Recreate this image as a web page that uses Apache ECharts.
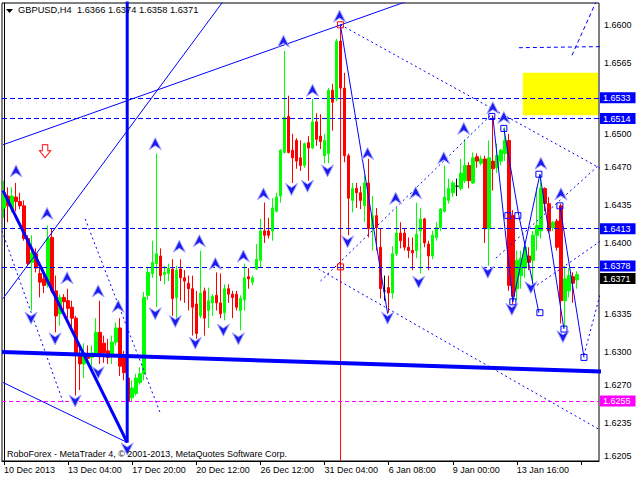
<!DOCTYPE html>
<html><head><meta charset="utf-8">
<script src="https://cdn.jsdelivr.net/npm/echarts@6/dist/echarts.min.js"></script>
<style>html,body{margin:0;padding:0;background:#fff}#c{width:640px;height:480px}</style>
</head><body><div id="c"></div>
<script>
const tickLabels = ['10 Dec 2013','13 Dec 04:00','17 Dec 20:00','20 Dec 12:00','26 Dec 12:00','31 Dec 04:00','6 Jan 08:00','9 Jan 00:00','13 Jan 16:00'];
const priceLabels = [1.6600,1.6565,1.6500,1.6470,1.6435,1.6400,1.6335,1.6300,1.6270,1.6235,1.6205];
const header = 'GBPUSD,H4  1.6366 1.6374 1.6358 1.6371';
const copyright = 'RoboForex - MetaTrader 4, \u00a9 2001-2013, MetaQuotes Software Corp.';

const open = [1.6432,1.6443,1.6431,1.6442,1.6438,1.6434,1.6404,1.6382,1.6390,1.6372,
1.6367,1.6362,1.6405,1.6356,1.6335,1.6350,1.6347,1.6341,1.6331,1.6298,
1.6289,1.6298,1.6295,1.6299,1.6318,1.6308,1.6301,1.6297,1.6309,1.6322,
1.6295,1.6276,1.6258,1.6262,1.6272,1.6280,1.6352,1.6372,1.6381,1.6388,
1.6371,1.6372,1.6376,1.6350,1.6376,1.6368,1.6363,1.6358,1.6344,1.6333,
1.6356,1.6338,1.6345,1.6352,1.6345,1.6336,1.6358,1.6353,1.6353,1.6338,
1.6348,1.6369,1.6364,1.6376,1.6384,1.6411,1.6411,1.6411,1.6429,1.6443,
1.6483,1.6516,1.6485,1.6494,1.6478,1.6471,1.6492,1.6487,1.6511,1.6498,
1.6480,1.6482,1.6540,1.6532,1.6585,1.6542,1.6480,1.6439,1.6450,1.6446,
1.6434,1.6455,1.6413,1.6425,1.6396,1.6356,1.6359,1.6354,1.6390,1.6409,
1.6409,1.6396,1.6393,1.6393,1.6411,1.6422,1.6399,1.6388,1.6405,1.6414,
1.6429,1.6439,1.6446,1.6452,1.6450,1.6457,1.6471,1.6455,1.6479,1.6473,
1.6477,1.6413,1.6475,1.6469,1.6475,1.6482,1.6494,1.6425,1.6358,1.6370,
1.6377,1.6388,1.6384,1.6407,1.6411,1.6450,1.6436,1.6414,1.6420,1.6434,
1.6347,1.6356,1.6369,1.6366];
const high = [1.6457,1.6451,1.6451,1.6455,1.6446,1.6439,1.6407,1.6407,1.6395,1.6379,
1.6375,1.6416,1.6413,1.6370,1.6353,1.6353,1.6358,1.6347,1.6333,1.6304,
1.6308,1.6306,1.6306,1.6331,1.6347,1.6315,1.6312,1.6315,1.6327,1.6331,
1.6301,1.6285,1.6274,1.6280,1.6286,1.6355,1.6378,1.6402,1.6482,1.6395,
1.6379,1.6381,1.6385,1.6379,1.6385,1.6375,1.6370,1.6370,1.6356,1.6393,
1.6359,1.6359,1.6353,1.6373,1.6372,1.6362,1.6362,1.6356,1.6356,1.6352,
1.6381,1.6377,1.6370,1.6399,1.6422,1.6437,1.6423,1.6441,1.6446,1.6486,
1.6576,1.6535,1.6500,1.6496,1.6494,1.6492,1.6498,1.6532,1.6519,1.6518,
1.6500,1.6542,1.6546,1.6587,1.6600,1.6556,1.6482,1.6455,1.6455,1.6452,
1.6462,1.6477,1.6443,1.6432,1.6413,1.6370,1.6370,1.6397,1.6432,1.6419,
1.6413,1.6405,1.6405,1.6437,1.6432,1.6423,1.6402,1.6411,1.6419,1.6432,
1.6471,1.6459,1.6457,1.6459,1.6477,1.6495,1.6474,1.6483,1.6482,1.6480,
1.6480,1.6494,1.6517,1.6491,1.6486,1.6506,1.6500,1.6430,1.6393,1.6393,
1.6402,1.6396,1.6411,1.6451,1.6462,1.6451,1.6442,1.6420,1.6422,1.6436,
1.6379,1.6377,1.6373,1.6374];
const low = [1.6423,1.6419,1.6428,1.6429,1.6431,1.6402,1.6379,1.6338,1.6373,1.6350,
1.6354,1.6359,1.6354,1.6318,1.6324,1.6338,1.6331,1.6318,1.6260,1.6265,
1.6276,1.6289,1.6286,1.6296,1.6289,1.6290,1.6289,1.6289,1.6306,1.6278,
1.6274,1.6254,1.6254,1.6260,1.6270,1.6274,1.6348,1.6368,1.6341,1.6365,
1.6362,1.6365,1.6333,1.6331,1.6347,1.6345,1.6338,1.6315,1.6312,1.6331,
1.6315,1.6322,1.6333,1.6338,1.6331,1.6329,1.6345,1.6331,1.6338,1.6320,
1.6338,1.6358,1.6361,1.6375,1.6377,1.6400,1.6404,1.6402,1.6428,1.6437,
1.6482,1.6482,1.6455,1.6468,1.6466,1.6469,1.6457,1.6486,1.6489,1.6486,
1.6473,1.6473,1.6503,1.6530,1.6540,1.6474,1.6407,1.6428,1.6432,1.6431,
1.6419,1.6405,1.6393,1.6393,1.6349,1.6347,1.6336,1.6349,1.6388,1.6395,
1.6393,1.6386,1.6375,1.6386,1.6372,1.6396,1.6375,1.6385,1.6402,1.6411,
1.6428,1.6436,1.6442,1.6443,1.6448,1.6455,1.6450,1.6454,1.6469,1.6471,
1.6400,1.6379,1.6448,1.6464,1.6471,1.6475,1.6356,1.6344,1.6347,1.6358,
1.6368,1.6375,1.6362,1.6393,1.6404,1.6429,1.6409,1.6411,1.6393,1.6326,
1.6322,1.6350,1.6345,1.6358];
const close = [1.6446,1.6434,1.6443,1.6438,1.6434,1.6404,1.6381,1.6391,1.6377,1.6364,
1.6361,1.6404,1.6356,1.6333,1.6350,1.6346,1.6340,1.6331,1.6298,1.6289,
1.6299,1.6294,1.6299,1.6318,1.6298,1.6299,1.6295,1.6309,1.6322,1.6287,
1.6281,1.6255,1.6267,1.6276,1.6280,1.6350,1.6373,1.6382,1.6390,1.6370,
1.6373,1.6377,1.6349,1.6375,1.6368,1.6365,1.6358,1.6341,1.6317,1.6354,
1.6331,1.6347,1.6351,1.6345,1.6335,1.6358,1.6353,1.6350,1.6341,1.6349,
1.6368,1.6367,1.6368,1.6385,1.6411,1.6407,1.6407,1.6432,1.6442,1.6485,
1.6515,1.6483,1.6478,1.6475,1.6471,1.6491,1.6487,1.6511,1.6495,1.6493,
1.6494,1.6540,1.6529,1.6585,1.6542,1.6480,1.6441,1.6450,1.6446,1.6439,
1.6455,1.6413,1.6425,1.6414,1.6358,1.6356,1.6354,1.6390,1.6409,1.6402,
1.6396,1.6393,1.6391,1.6408,1.6422,1.6400,1.6388,1.6407,1.6414,1.6431,
1.6442,1.6450,1.6455,1.6452,1.6464,1.6471,1.6457,1.6478,1.6475,1.6477,
1.6413,1.6478,1.6468,1.6480,1.6485,1.6494,1.6361,1.6351,1.6384,1.6386,
1.6396,1.6382,1.6407,1.6416,1.6450,1.6436,1.6411,1.6419,1.6396,1.6347,
1.6367,1.6370,1.6363,1.6371];

// horizontal levels
const blueLevels = [1.6533, 1.6514, 1.6413, 1.6378];
const magentaLevel = 1.6255;
const lastPrice = 1.6371;

// drawing objects: [bar index, price]
const thinLines = [
  [[-0.25,1.6490],[104,1.6626]],
  [[-0.25,1.6349],[55,1.6623]],
  [[-0.25,1.6272],[30.75,1.6217]],
  [[84,1.6599],[95.75,1.6335]],
  [[122,1.6516],[127,1.6346]],
  [[124.75,1.6505],[128.5,1.6425],[133.5,1.6336]],
  [[127,1.6346],[133.75,1.6463],[139.75,1.6321]],
  [[138.75,1.6434],[144.75,1.6295]]
];
const thickLines = [
  [[-0.25,1.6448],[30.75,1.6217]],
  [[30.75,1.6622],[30.75,1.6217]]
];
const supportLine = [[-0.5,1.6300],[149,1.6282]];
const redVertical = [[84,1.6600],[84,1.6200]];
const dottedLines = [
  [[84,1.6600],[149,1.6468]],
  [[78.5,1.6376],[149,1.6228]],
  [[79,1.6365],[122,1.6519]],
  [[-0.5,1.6411],[14.75,1.6254]],
  [[20.25,1.6422],[39,1.6244]],
  [[122.75,1.6386],[149,1.6473]],
  [[131,1.6356],[149,1.6402]],
  [[144.75,1.6297],[149,1.6356]]
];
const dashedLines = [
  [[128.5,1.6579],[149,1.6580]],
  [[141.75,1.6572],[147.75,1.6621]]
];
const targetZone = [[129.5,1.6556],[148.25,1.6517]];
const upArrows = [[3,1.6466],[10.75,1.6427],[15.75,1.6368],[23.5,1.6356],[28.5,1.6342],[37.75,1.6491],
  [43.75,1.6397],[48.75,1.6402],[52.75,1.6381],[59.75,1.6388],[64.75,1.6445],[69.75,1.6585],[77,1.6540],
  [83.75,1.6608],[90.75,1.6482],[97.75,1.6441],[102.75,1.6446],[109.75,1.6478],[114.75,1.6505],
  [122,1.6524],[124.75,1.6515],[134,1.6473],[139,1.6445]];
const downArrows = [[6.75,1.6331],[12.75,1.6312],[17.75,1.6255],[23.5,1.6281],[30.75,1.6211],
  [37.75,1.6335],[42.75,1.6328],[47.75,1.6308],[54.75,1.6320],[58.5,1.6312],[71.75,1.6449],
  [75.75,1.6452],[80.75,1.6466],[85.75,1.6401],[95.75,1.6331],[103.5,1.6364],[120.75,1.6373],
  [126.75,1.6339],[131.5,1.6359],[139.5,1.6314]];
const blueSquares = [[121.75,1.6516],[124.75,1.6505],[127,1.6346],[125.75,1.6425],[128.25,1.6425],
  [133.5,1.6463],[133.75,1.6336],[138.75,1.6434],[139.75,1.6321],[144.75,1.6295]];
const redSquares = [[84,1.6600],[84,1.6378]];
const sellSignal = [[10.25,1.6484]];

const N = 149;
const cats = [];
for (let i = 0; i < N; i++) cats.push(String(i));
const candles = open.map((o, i) => [o, close[i], low[i], high[i]]);
const labelSet = priceLabels.map(v => Math.round(v * 10000));

const BLUE = '#0000ff';
const FONT = 'Liberation Sans';
function lineSeries(pts, width, type, color, z) {
  return {type:'line', xAxisIndex:1, yAxisIndex:0, data:pts, symbol:'none', silent:true,
    animation:false, clip:true, z:z, lineStyle:{color:color, width:width, type:type}};
}
function lvl(v, bg, lineColor, dash, dy) {
  return [{coord:[-0.5, v], lineStyle:{color:lineColor, type:dash, width:1},
    label:{show:true, position:'end', distance:1, formatter:v.toFixed(4), color:'#fff',
      backgroundColor:bg, padding:[1,5,0,3], lineHeight:10, fontSize:9, fontFamily:FONT,
      offset:[0, dy || 0]}},
    {coord:[N-0.5, v]}];
}

const series = [];
series.push({
  type:'candlestick', xAxisIndex:0, yAxisIndex:0, data:candles, barWidth:3, z:3,
  itemStyle:{color:'#00ff00', color0:'#ff0000', borderColor:'#00ff00', borderColor0:'#ff0000',
    borderColorDoji:'#000000', borderWidth:1}
});
series.push({type:'line', xAxisIndex:1, yAxisIndex:0, data:[[-10, 1.63]], symbol:'none', silent:true, z:6,
  markLine:{silent:true, symbol:'none', animation:false, precision:4, data:[
    lvl(blueLevels[0], BLUE, BLUE, [5,3]),
    lvl(blueLevels[1], BLUE, BLUE, [5,3]),
    lvl(blueLevels[2], BLUE, BLUE, [5,3]),
    lvl(lastPrice, '#000000', 'rgba(0,0,0,0)', 'solid', 4),
    lvl(blueLevels[3], BLUE, BLUE, [5,3], -1),
    lvl(magentaLevel, '#ff00ff', '#ff00ff', [4,3])
  ]}
});
series.push({type:'line', xAxisIndex:1, yAxisIndex:0, data:[[-10, 1.63]], symbol:'none', silent:true, z:1,
  markArea:{silent:true, itemStyle:{color:'#ffff00', opacity:1},
    data:[[{coord:targetZone[0]},{coord:targetZone[1]}]]}});
thinLines.forEach(p => series.push(lineSeries(p, 1, 'solid', BLUE, 7)));
thickLines.forEach(p => series.push(lineSeries(p, 3, 'solid', BLUE, 7)));
series.push(lineSeries(supportLine, 4, 'solid', BLUE, 7));
series.push(lineSeries(redVertical, 1, 'solid', '#ff0000', 4));
dottedLines.forEach(p => series.push(lineSeries(p, 1, [2,3], BLUE, 7)));
dashedLines.forEach(p => series.push(lineSeries(p, 1, [4,3], BLUE, 7)));
series.push({type:'scatter', xAxisIndex:1, yAxisIndex:0, data:upArrows, silent:true, z:8,
  symbol:'path://M6,0 L12,12 L6,8 L0,12 Z', symbolSize:[12,12],
  itemStyle:{color:'#1c1cf0', borderColor:'#a8a8ff', borderWidth:1, opacity:1}});
series.push({type:'scatter', xAxisIndex:1, yAxisIndex:0, data:downArrows, silent:true, z:8,
  symbol:'path://M0,0 L6,4 L12,0 L6,12 Z', symbolSize:[12,12],
  itemStyle:{color:'#1c1cf0', borderColor:'#a8a8ff', borderWidth:1, opacity:1}});
series.push({type:'scatter', xAxisIndex:1, yAxisIndex:0, data:blueSquares, silent:true, z:8,
  symbol:'rect', symbolSize:6, itemStyle:{color:'rgba(0,0,0,0)', borderColor:BLUE, borderWidth:1, opacity:1}});
series.push({type:'scatter', xAxisIndex:1, yAxisIndex:0, data:redSquares, silent:true, z:8,
  symbol:'rect', symbolSize:6, itemStyle:{color:'rgba(0,0,0,0)', borderColor:'#ff0000', borderWidth:1, opacity:1}});
series.push({type:'scatter', xAxisIndex:1, yAxisIndex:0, data:sellSignal, silent:true, z:8,
  symbol:'path://M3,0 L9,0 L9,6 L12,6 L6,13 L0,6 L3,6 Z', symbolSize:[11,13],
  itemStyle:{color:'#ffffff', borderColor:'#ff0000', borderWidth:1, opacity:1}});

const chart = echarts.init(document.getElementById('c'), null, {renderer:'svg'});
chart.setOption({
  animation:false,
  backgroundColor:'#ffffff',
  textStyle:{fontFamily:FONT},
  grid:{left:2, right:41, top:3, bottom:19, show:true, borderColor:'#000', borderWidth:1,
    backgroundColor:'#fff', containLabel:false, outerBoundsMode:'none'},
  xAxis:[{
    type:'category', data:cats, boundaryGap:true,
    axisLine:{show:true, lineStyle:{color:'#000'}},
    axisTick:{show:true, alignWithLabel:true, length:4, interval:(i)=> i % 16 === 0, lineStyle:{color:'#000'}},
    axisLabel:{show:true, interval:(i)=> i % 16 === 0, align:'left', margin:4, fontSize:9, color:'#000',
      fontFamily:FONT, formatter:(v)=> { const k = parseInt(v, 10); return k % 16 === 0 ? (tickLabels[k/16] || '') : ''; }},
    splitLine:{show:false}
  },{
    type:'value', min:-0.5, max:N-0.5, show:false
  }],
  yAxis:{
    type:'value', position:'right', min:1.6200, max:1.6620, interval:0.0005,
    axisLine:{show:true, lineStyle:{color:'#000'}},
    axisTick:{show:false},
    splitLine:{show:false},
    axisLabel:{show:true, margin:5, fontSize:9, color:'#000', fontFamily:FONT,
      formatter:(v)=> labelSet.includes(Math.round(v*10000)) ? v.toFixed(4) : ''}
  },
  graphic:[
    {type:'polygon', shape:{points:[[6,9],[13,9],[9.5,13]]}, style:{fill:'#000'}, z:20},
    {type:'text', left:18, top:5, z:20, style:{text:header, fill:'#000', font:'9.3px "Liberation Sans"'}},
    {type:'text', left:7, top:449, z:20, style:{text:copyright, fill:'#000', font:'9px "Liberation Sans"'}}
  ],
  series:series
});
</script>
</body></html>
